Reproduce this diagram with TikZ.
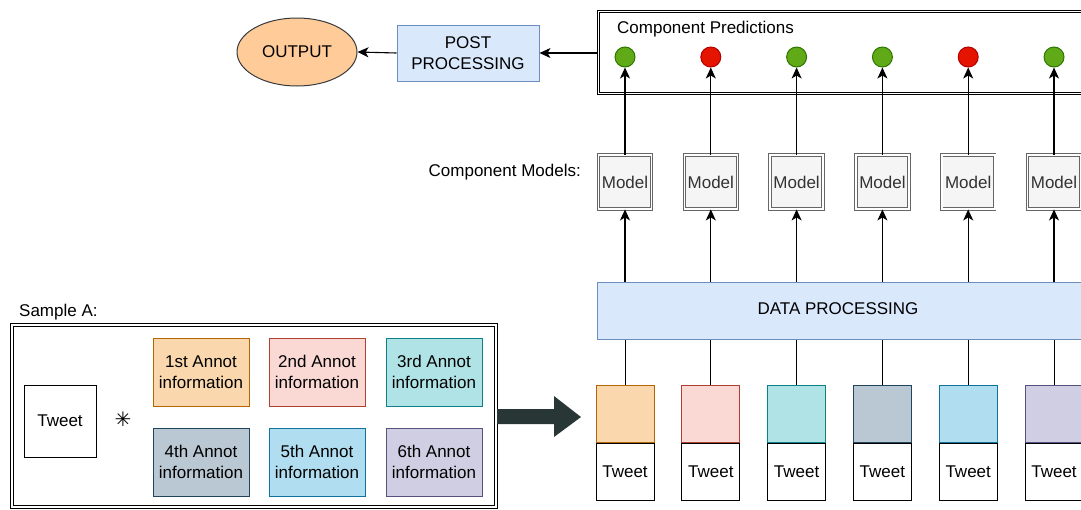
\documentclass[tikz,border=0pt]{standalone}
\usepackage{fontspec}
\setmainfont{Liberation Sans}
\newfontfamily\symfont{DejaVu Sans}
\usetikzlibrary{arrows.meta,positioning,shapes.geometric}

% draw.io palette
\definecolor{blueF}{HTML}{DAE8FC}
\definecolor{blueD}{HTML}{6C8EBF}
\definecolor{orangeF}{HTML}{FFCC99}
\definecolor{orangeD}{HTML}{36393D}
\definecolor{modelF}{HTML}{F5F5F5}
\definecolor{modelD}{HTML}{666666}
\definecolor{modelT}{HTML}{333333}
\definecolor{okF}{HTML}{60A917}
\definecolor{okD}{HTML}{2D7600}
\definecolor{badF}{HTML}{E51400}
\definecolor{badD}{HTML}{B20000}
\definecolor{bigarrow}{HTML}{283736}
\definecolor{aF1}{HTML}{FAD7AC}\definecolor{aD1}{HTML}{B46504}
\definecolor{aF2}{HTML}{FAD9D5}\definecolor{aD2}{HTML}{AE4132}
\definecolor{aF3}{HTML}{B0E3E6}\definecolor{aD3}{HTML}{0E8088}
\definecolor{aF4}{HTML}{BAC8D3}\definecolor{aD4}{HTML}{23445D}
\definecolor{aF5}{HTML}{B1DDF0}\definecolor{aD5}{HTML}{10739E}
\definecolor{aF6}{HTML}{D0CEE2}\definecolor{aD6}{HTML}{56517E}

\begin{document}
\begin{tikzpicture}[x=1pt,y=-1pt,font=\fontsize{17}{20.5}\selectfont,
  box/.style={draw,line width=1pt,inner sep=0pt,align=center},
  annot/.style={box,minimum width=96pt,minimum height=68pt},
  dblbox/.style={draw,double=white,double distance=1.6pt,line width=0.9pt,inner sep=0pt},
  model/.style={draw=modelD,double=white,double distance=1.6pt,line width=0.9pt,
    fill=modelF,minimum width=53pt,minimum height=54pt,inner sep=0pt,text=modelT},
  pred/.style={circle,line width=1pt,minimum size=20pt,inner sep=0pt},
  arr/.style={-{Stealth[length=11pt,width=10pt,inset=3pt]},line width=1.1pt}]
\useasboundingbox (0,0) rectangle (1081,509);
\clip (0,0) rectangle (1081,509);

% Sample A
\node[anchor=south west,inner sep=0pt] (samplelbl) at (19,320) {Sample A:};
\node[dblbox,anchor=north west,minimum width=484pt,minimum height=182pt] (sample) at (11.5,324.5) {};
\node[box,minimum width=72pt,minimum height=72pt] (tweet) at (60,421) {Tweet};
\node[inner sep=0pt] (star) at (123,419) {\symfont\bfseries\fontsize{20}{20}\selectfont ✳};
\foreach \i/\lbl/\cx/\cy in {1/1st/201/372,2/2nd/317/372,3/3rd/434/372,
                             4/4th/201/462,5/5th/317/462,6/6th/434/462}
  \node[annot,fill=aF\i,draw=aD\i] (a\i) at (\cx,\cy) {\lbl\ Annot\\information};

% big arrow
\fill[bigarrow] (497,409) -- (554,409) -- (554,396) -- (581,417)
  -- (554,437) -- (554,424) -- (497,424) -- cycle;

% right part
\node[box,draw=blueD,fill=blueF,anchor=north west,minimum width=488pt,
  minimum height=57pt] (dp) at (596.5,281.5) {};
\node (dplbl) at (838,309) {DATA PROCESSING};
\node[dblbox,anchor=north west,minimum width=492pt,minimum height=82pt] (preds) at (598,11) {};
\node[anchor=west,inner sep=0pt] (predlbl) at (617,29) {Component Predictions};
\node[anchor=east,inner sep=0pt] (modlbl) at (581,172) {Component Models:};

\foreach \i/\res in {1/ok,2/bad,3/ok,4/ok,5/bad,6/ok}{
  \pgfmathsetmacro\cx{625+(\i-1)*85.8}
  \node[box,fill=aF\i,draw=aD\i,minimum width=58pt,minimum height=57pt] (c\i) at (\cx,413.5) {};
  \node[box,minimum width=58pt,minimum height=57pt,below=0pt of c\i] (t\i) {Tweet};
  \node[model] (m\i) at (\cx,182) {Model};
  \node[pred,fill=\res F,draw=\res D] (p\i) at (\cx,57) {};
  \draw[line width=1pt] (c\i.north) -- (c\i.north |- dp.south);
  \draw[arr] (dp.north -| m\i.south) -- (m\i.south);
  \draw[arr] (m\i.north) -- (p\i.south);
}

% post processing
\node[box,draw=blueD,fill=blueF,minimum width=142pt,minimum height=56pt] (post) at (468,53) {POST\\PROCESSING};
\node[ellipse,draw=orangeD,fill=orangeF,line width=1pt,minimum width=120pt,
  minimum height=68pt,inner sep=0pt] (output) at (297,52) {OUTPUT};
\draw[arr] (post.east -| preds.west) -- (post.east);
\draw[arr] (post.west) -- (output.east);
\end{tikzpicture}
\end{document}
